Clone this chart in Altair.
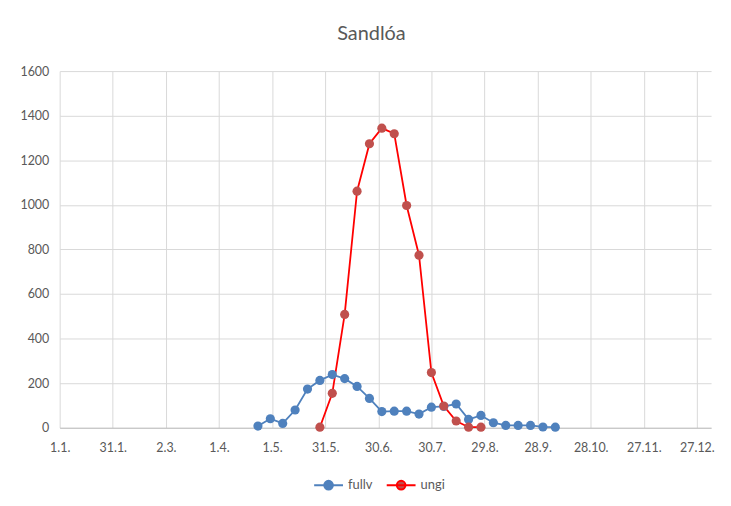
import altair as alt
import pandas as pd

title_text = "Sandlóa"
series_names = ["fullv", "ungi"]
line_colors = ["#4F81BD", "#FF0000"]
marker_colors = ["#4F81BD", "#C0504D"]

fullv_dates = ["2015-04-23", "2015-04-30", "2015-05-07", "2015-05-14", "2015-05-21",
               "2015-05-28", "2015-06-04", "2015-06-11", "2015-06-18", "2015-06-25",
               "2015-07-02", "2015-07-09", "2015-07-16", "2015-07-23", "2015-07-30",
               "2015-08-06", "2015-08-13", "2015-08-20", "2015-08-27", "2015-09-03",
               "2015-09-10", "2015-09-17", "2015-09-24", "2015-10-01", "2015-10-08"]
fullv_values = [7, 40, 19, 79, 173, 212, 238, 220, 185, 131, 72, 74, 74, 61, 92,
                95, 106, 37, 55, 22, 10, 10, 10, 3, 2]

ungi_dates = ["2015-05-28", "2015-06-04", "2015-06-11", "2015-06-18", "2015-06-25",
              "2015-07-02", "2015-07-09", "2015-07-16", "2015-07-23", "2015-07-30",
              "2015-08-06", "2015-08-13", "2015-08-20", "2015-08-27"]
ungi_values = [2, 154, 508, 1061, 1274, 1344, 1319, 997, 774, 247, 97, 30, 2, 2]

tick_days = [0, 30, 60, 90, 120, 150, 180, 210, 240, 270, 300, 330, 360]
tick_labels = ["1.1.", "31.1.", "2.3.", "1.4.", "1.5.", "31.5.", "30.6.", "30.7.",
               "29.8.", "28.9.", "28.10.", "27.11.", "27.12."]
x_domain = [0, 368]
y_ticks = [0, 200, 400, 600, 800, 1000, 1200, 1400, 1600]

start = pd.Timestamp("2015-01-01")
rows = []
for name, dates, vals in [("fullv", fullv_dates, fullv_values), ("ungi", ungi_dates, ungi_values)]:
    for d, v in zip(dates, vals):
        rows.append({"series": name, "day": (pd.Timestamp(d) - start).days, "value": v, "date": d})
df = pd.DataFrame(rows)

FONT = "Lato"
GRID = "#D9D9D9"
TXT = "#595959"

label_expr = "[" + ",".join("'" + t + "'" for t in tick_labels) + "][round(datum.value/30)]"

x_enc = alt.X("day:Q", scale=alt.Scale(domain=x_domain, nice=False, zero=False),
              axis=alt.Axis(values=tick_days, labelExpr=label_expr, title=None,
                            ticks=False, tickSize=0, labelPadding=14, labelFont=FONT,
                            labelFontSize=12.5, labelColor=TXT, domainColor="#BFBFBF",
                            gridColor=GRID, labelFlush=False, labelOverlap=False))
y_enc = alt.Y("value:Q", scale=alt.Scale(domain=[0, 1600], nice=False),
              axis=alt.Axis(values=y_ticks, format="d", title=None, ticks=False, tickSize=0,
                            domain=False, labelPadding=11, labelFont=FONT, labelFontSize=12.5,
                            labelColor=TXT, gridColor=GRID))

sym_path = "M-1,0L1,0M0.3,0A0.3,0.3,0,1,1,-0.3,0A0.3,0.3,0,1,1,0.3,0Z"
leg = alt.Legend(title=None, orient="none", legendX=255, legendY=401, direction="horizontal",
                 symbolType=sym_path, symbolSize=841, symbolStrokeWidth=2,
                 labelFont=FONT, labelFontSize=13, labelColor=TXT, labelOffset=4,
                 columnPadding=10)

base = alt.Chart(df)
lines = base.mark_line(strokeWidth=1.8).encode(
    x=x_enc, y=y_enc,
    stroke=alt.Stroke("series:N", scale=alt.Scale(domain=series_names, range=line_colors), legend=leg),
    order="day:Q",
)
points = base.mark_circle(size=85, opacity=1).encode(
    x=x_enc, y=y_enc,
    fill=alt.Fill("series:N", scale=alt.Scale(domain=series_names, range=marker_colors), legend=leg),
)

chart = alt.layer(lines, points).properties(
    width=655.3, height=358.7,
    autosize=alt.AutoSizeParams(type="none"),
    padding={"left": 52, "top": 62, "right": 12, "bottom": 70},
    title=alt.TitleParams(title_text, font=FONT, fontSize=20, fontWeight="normal",
                          color=TXT, anchor="middle", offset=21, dx=-14),
).configure_view(strokeWidth=0)

chart.save("out.html", embed_options={"renderer": "svg", "actions": False})
